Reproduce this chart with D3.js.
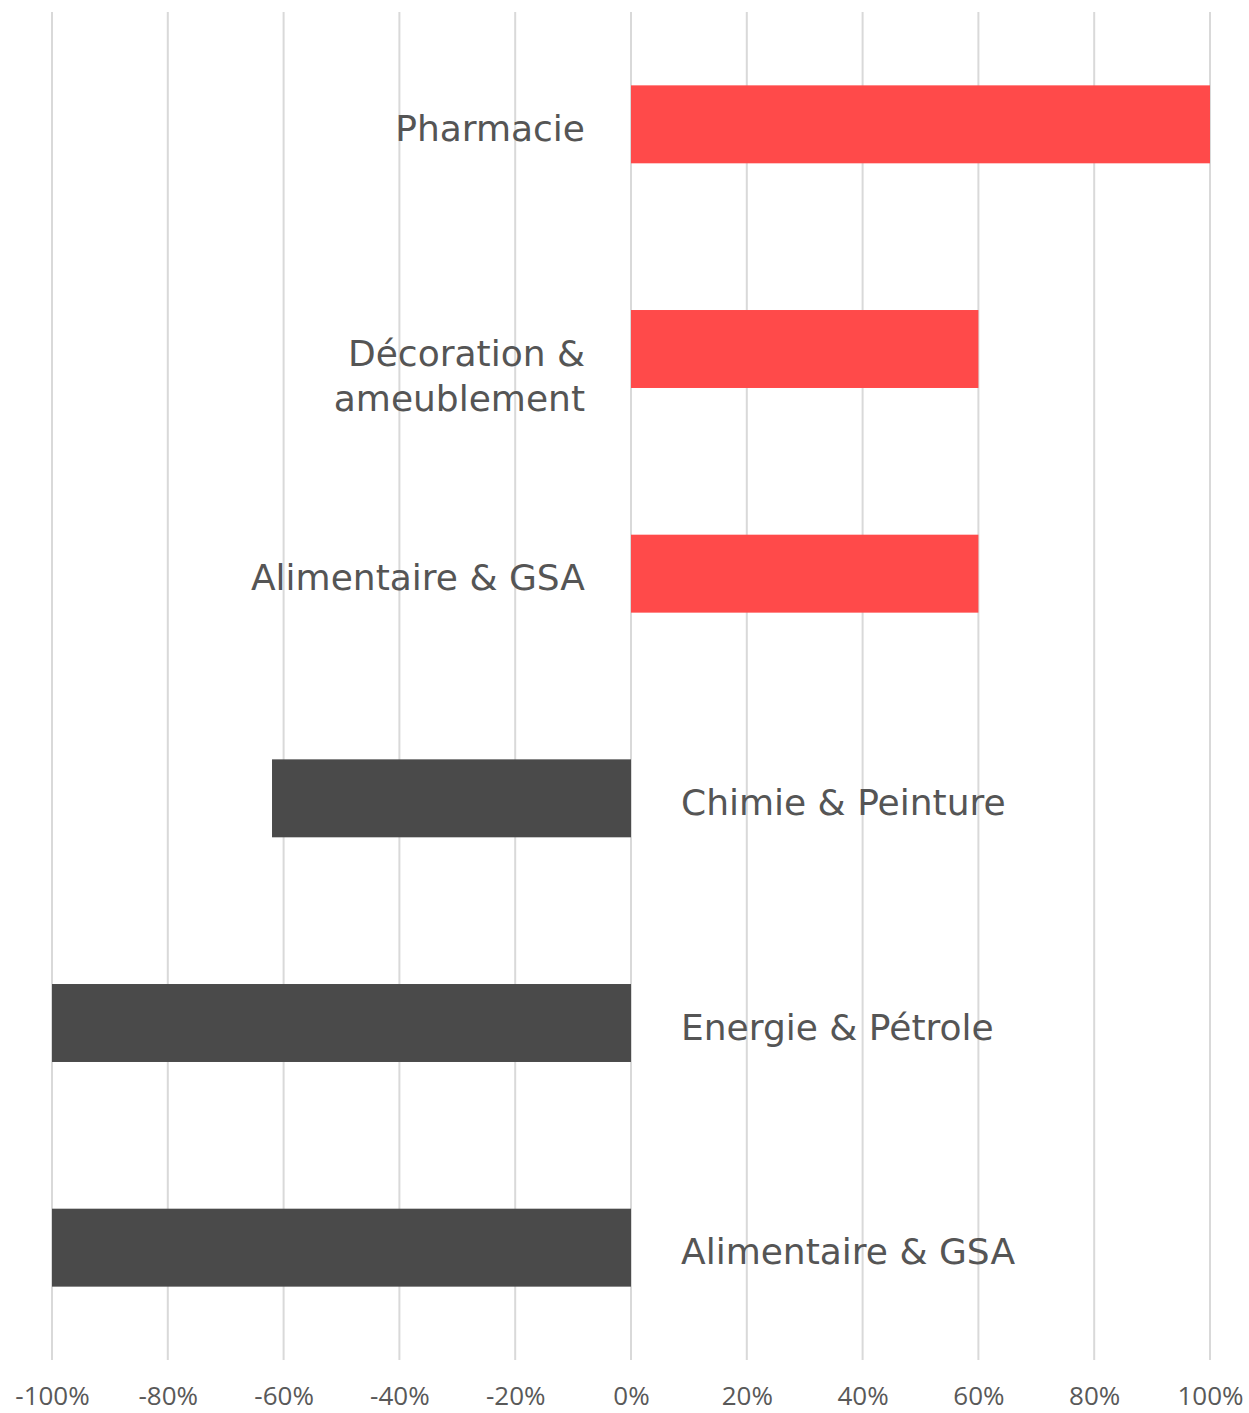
<!DOCTYPE html>
<html><head><meta charset="utf-8">
<script src="https://cdn.jsdelivr.net/npm/d3@7"></script>
<style>body{margin:0;background:#fff}svg{display:block}</style>
</head><body>
<svg id="c" width="1249" height="1413"></svg>
<script>
const categories = ["Pharmacie", "Décoration & ameublement", "Alimentaire & GSA", "Chimie & Peinture", "Energie & Pétrole", "Alimentaire & GSA "];
const labelLines = [["Pharmacie"], ["Décoration &", "ameublement"], ["Alimentaire & GSA"], ["Chimie & Peinture"], ["Energie & Pétrole"], ["Alimentaire & GSA"]];
const values = [1.00, 0.60, 0.60, -0.62, -1.00, -1.00];
const tickValues = [-1, -0.8, -0.6, -0.4, -0.2, 0, 0.2, 0.4, 0.6, 0.8, 1];
const tickLabels = ["-100%", "-80%", "-60%", "-40%", "-20%", "0%", "20%", "40%", "60%", "80%", "100%"];

const svg = d3.select("#c");
const x = d3.scaleLinear().domain([-1, 1]).range([52, 1210]);
const y = d3.scaleBand().domain(categories).range([12, 1360]).paddingInner(0.653).paddingOuter(0.3265);

// grid
svg.append("g").selectAll("line").data(tickValues).join("line")
  .attr("x1", d => x(d)).attr("x2", d => x(d))
  .attr("y1", 12).attr("y2", 1360)
  .attr("stroke", "#d9d9d9").attr("stroke-width", 2);

// axis labels
const ax = svg.append("g").attr("transform", "translate(0,1360)")
  .call(d3.axisBottom(x).tickValues(tickValues).tickSize(0).tickPadding(0)
    .tickFormat((d, i) => tickLabels[i]));
ax.select(".domain").remove();
ax.selectAll("text").attr("y", 45).attr("dy", 0)
  .attr("font-family", "'Open Sans', 'Noto Sans', sans-serif").attr("font-size", 26).attr("fill", "#595959");

// bars
svg.append("g").selectAll("rect").data(values).join("rect")
  .attr("x", d => x(Math.min(0, d)))
  .attr("width", d => Math.abs(x(d) - x(0)))
  .attr("y", (d, i) => y(categories[i]))
  .attr("height", y.bandwidth())
  .attr("fill", d => d >= 0 ? "#ff4a4a" : "#4a4a4a");

// category labels
const lab = svg.append("g").selectAll("text").data(values).join("text")
  .attr("font-family", "'DejaVu Sans', sans-serif")
  .attr("font-size", 36).attr("fill", "#555555")
  .attr("text-anchor", d => d >= 0 ? "end" : "start")
  .attr("y", (d, i) => y(categories[i]) + y.bandwidth() / 2 + 4);
lab.each(function(d, i) {
  const lines = labelLines[i];
  d3.select(this).selectAll("tspan").data(lines).join("tspan")
    .attr("x", d >= 0 ? x(0) - 46 : x(0) + 50)
    .attr("dy", (l, j) => j === 0 ? "0.35em" : "45px")
    .text(l => l);
});
</script>
</body></html>
